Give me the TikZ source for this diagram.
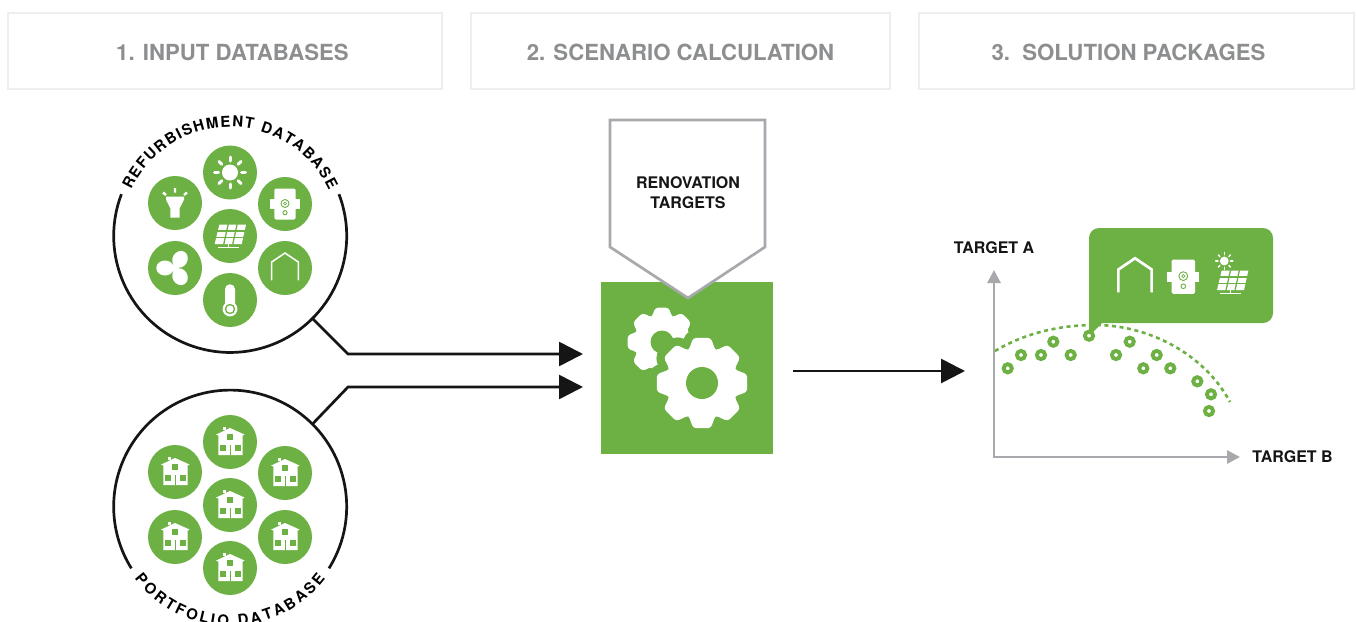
\documentclass[tikz,border=0pt]{standalone}
\usepackage{fontspec}
\setmainfont{TeX Gyre Heros}
\usetikzlibrary{arrows.meta,decorations.text,calc}
\definecolor{leaf}{HTML}{6DB144}
\definecolor{headgrey}{HTML}{8C8E90}
\definecolor{boxgrey}{HTML}{EEEEEE}
\definecolor{axisgrey}{HTML}{A7A9AC}
\definecolor{inkk}{HTML}{151515}
\newcommand{\gearshape}[5][]{% options cx cy outer root
  \path[fill=white,rounded corners=3pt,#1] ([shift={(#2,#3)}]-22:#5)
  \foreach \a in {0,45,...,315} {
    -- ([shift={(#2,#3)}]\a-22:#5) -- ([shift={(#2,#3)}]\a-11:#4) -- ([shift={(#2,#3)}]\a+11:#4) -- ([shift={(#2,#3)}]\a+22:#5)
  } -- cycle;}
\tikzset{
  x=1pt,y=-1pt,
  headbox/.style={draw=boxgrey,line width=2.2pt,fill=white,inner sep=0pt},
  headtext/.style={text=headgrey,font=\bfseries\fontsize{22.2}{22.2}\selectfont,inner sep=0pt},
  labeltext/.style={text=inkk,font=\bfseries\fontsize{16}{20}\selectfont,align=center,inner sep=0pt},
  disc/.style={circle,fill=leaf,minimum size=54pt,inner sep=0pt},
  dbcircle/.style={circle,minimum size=233pt,inner sep=0pt},
  ringdot/.style={circle,draw=leaf,line width=3.9pt,fill=white,minimum size=8.2pt,inner sep=0pt},
  conn/.style={draw=inkk,line width=2.7pt,-{Triangle[length=24pt,width=24pt]}},
  dbline/.style={draw=inkk,line width=2.7pt},
  axis/.style={draw=axisgrey,line width=2.8pt},
  pics/sun/.style={code={
    \fill[white] (0,0) circle (8);
    \foreach \a in {0,45,...,315} \draw[white,line width=#1,line cap=round] (\a:11.5) -- (\a:15.5);
  }},
  pics/sun/.default=3pt,
  pics/torch/.style={code={
    \fill[white] (-9,-6.3)--(9,-6.3)--(9,-3.5)--(4.7,5.3)--(4.7,14.7)--(-4.7,14.7)--(-4.7,5.3)--(-9,-3.5)--cycle;
    \draw[white,line width=2.4pt] (0,-15)--(0,-10.5) (-12,-10.5)--(-9,-8) (12,-10.5)--(9,-8);
  }},
  pics/boiler/.style={code={
    \fill[white,rounded corners=1.5pt] (-10.7,-15.5) rectangle (10.7,15.5);
    \fill[white] (-14.7,-4.6) rectangle (14.7,4.6);
    \draw[leaf,line width=.9pt] (0,-.5) circle (4);
    \draw[leaf,line width=.7pt] (0,-.5) circle (1.5);
    \draw[leaf,line width=.9pt] (0,8.7) circle (2.1);
  }},
  pics/solar/.style={code={
    \fill[white] (-10.7,-11.3)--(16,-11.3)--(11.7,8)--(-15.3,8)--cycle;
    \foreach \i in {1,2} \draw[leaf,line width=1.3pt] (-10.7+8.9*\i,-11.8)--(-15.3+9*\i,8.5);
    \foreach \j in {1,2} \draw[leaf,line width=1.3pt] (-12-1.45*\j,-11.3+6.43*\j)--(17-1.45*\j,-11.3+6.43*\j);
    \draw[white,line width=1.3pt] (-1.5,8)--(-1.5,11.8) (-12,11.8)--(9,11.8);
  }},
  pics/fan/.style={code={
    \foreach \a in {180,60,300} \fill[white,rotate=\a] (10,0) ellipse (8.7 and 7.5);
    \fill[white] (0,0) circle (4);
  }},
  pics/arch/.style={code={
    \draw[white,line width=#1,line join=miter] (-13.3,12.3)--(-13.3,-6)--(0,-15)--(13.3,-6)--(13.3,12.3);
  }},
  pics/arch/.default=1.5pt,
  pics/thermo/.style={code={
    \fill[white,rounded corners=4.8pt] (-5,-15.7) rectangle (5,8);
    \fill[white] (0,9) circle (7.4);
    \draw[leaf,line width=1.3pt] (0,9) circle (4.5);
    \fill[white] (0,9) circle (2.6);
  }},
  pics/building/.style={code={
    \fill[white] (-14,-7.4)--(0,-14)--(14.7,-7.4)--(12.7,-6.5)--(12.7,13)--(-11.7,13)--(-11.7,-6.5)--cycle;
    \fill[white] (-7,-14.6) rectangle (-4,-12.5);
    \fill[leaf] (-2.7,-7.7) rectangle (3.3,-1.7);
    \fill[leaf] (-10,3.3) rectangle (-4.3,9.3);
    \fill[leaf] (5,3.3) rectangle (10.7,9.3);
    \fill[leaf] (-.1,3.3) rectangle (.9,13);
  }},
}
\begin{document}
\begin{tikzpicture}
\clip (0,0) rectangle (1356,621);
\fill[white] (0,0) rectangle (1356,621);

% headers
\draw[headbox] (8,13) rectangle (442,89);
\draw[headbox] (471,13) rectangle (890,89);
\draw[headbox] (919,13) rectangle (1354,89);
\node[headtext] (h1) at (232.5,52) {1. INPUT DATABASES};
\node[headtext] (h2) at (680.5,52) {2. SCENARIO CALCULATION};
\node[headtext] (h3) at (1128.5,52) {3.\ \ SOLUTION PACKAGES};

% database circles
\node[dbcircle] (refdb) at (230,236) {};
\node[dbcircle] (portdb) at (230,506.5) {};
\draw[dbline] (refdb.21) arc[start angle=21,end angle=-201,radius=116.5pt];
\draw[dbline] (portdb.-32) arc[start angle=-32,end angle=212,radius=116.5pt];
\path[decorate,decoration={text along path,text align={fit to path},
  text={|\bfseries\fontsize{15}{15}\selectfont|REFURBISHMENT DATABASE}}]
  (refdb.center) ++(155:109pt) arc[start angle=155,end angle=25,radius=109pt];
\path[decorate,decoration={text along path,text align={fit to path},
  text={|\bfseries\fontsize{15}{15}\selectfont|PORTFOLIO DATABASE}}]
  (portdb.center) ++(-143:119.5pt) arc[start angle=-143,end angle=-37,radius=119.5pt];

% refurbishment discs
\node[disc] (r1) at (230,172.5) {};
\node[disc] (r2) at (175,203) {};
\node[disc] (r3) at (285,204) {};
\node[disc] (r4) at (230,236) {};
\node[disc] (r5) at (175,268) {};
\node[disc] (r6) at (285,268) {};
\node[disc] (r7) at (230,300) {};
\pic at (r1) {sun};
\pic at (r2) {torch};
\pic at (r3) {boiler};
\pic at (r4) {solar};
\pic at (r5) {fan};
\pic at (r6) {arch};
\pic at (r7) {thermo};

% portfolio discs
\foreach \n/\p in {p1/{230,442},p2/{175,472},p3/{285,473},p4/{230,505},p5/{175,537},p6/{285,537},p7/{230,568}} {
  \node[disc] (\n) at (\p) {};
  \pic at (\n) {building};
}

% engine
\node[fill=leaf,minimum size=172pt,inner sep=0pt] (engine) at (687,368) {};
\gearshape{662}{342}{35}{27}
\fill[leaf] (662,342) circle (11.5);
\gearshape[fill=leaf,draw=leaf,line width=17pt,line join=round]{702}{383}{46}{35.5}
\gearshape{702}{383}{46}{35.5}
\fill[leaf] (702,383) circle (16);

% targets pentagon
\draw[draw=axisgrey,line width=2.7pt,fill=white,line join=miter] (610,120)--(765,120)--(765,247)--(688,298)--(610,247)--cycle;
\node[labeltext] (targets) at (688,193) {RENOVATION\\TARGETS};

% connectors
\coordinate (a1) at (348,354);
\coordinate (a2) at (348,387);
\coordinate (t1) at (583,354);
\coordinate (t2) at (583,387);
\coordinate (s3) at (793,371);
\coordinate (t3) at (965,371);
\draw[conn] (refdb.-45) -- (a1) -- (t1);
\draw[conn] (portdb.45) -- (a2) -- (t2);
\draw[conn] (s3) -- (t3);

% chart
\coordinate (origin) at (994,457);
\coordinate (ytip) at (994,270);
\coordinate (xtip) at (1240,457);
\draw[axis,{Triangle[length=13pt,width=13pt]}-{Triangle[length=13pt,width=13pt]}] (ytip) -- (origin) -- (xtip);
\node[labeltext] (ta) at (994,248) {TARGET A};
\node[labeltext] (tb) at (1292.5,457) {TARGET B};
\draw[leaf,line width=2.6pt,dash pattern=on 4pt off 3.6pt] (995,351) .. controls (1025,333) and (1060,325) .. (1095,325) .. controls (1150,325) and (1205,355) .. (1230,402);
\fill[leaf] (1099,228) -- (1263,228) arc[start angle=90,end angle=0,radius=10pt] -- (1273,313) arc[start angle=0,end angle=-90,radius=10pt] -- (1102,323) -- (1092,333) -- (1089,333) -- (1089,238) arc[start angle=180,end angle=90,radius=10pt] -- cycle;
\foreach \i/\p in {1/{1007.7,368.3},2/{1021,355},3/{1041,355},4/{1053.3,341.7},5/{1070.7,355},6/{1089,335.7},7/{1116,355},8/{1129.7,341.7},9/{1143.3,368.3},10/{1156.7,355},11/{1170.3,368.3},12/{1197.3,381.3},13/{1211,394.3},14/{1209,411}}
  \node[ringdot] (d\i) at (\p) {};
\pic[scale=1.25] at (1135,277) {arch=2.7pt};
\pic[scale=1.1] at (1183.3,276.7) {boiler};
\pic at (1232.3,282) {solar};
\pic[scale=.55] at (1224.3,261) {sun=1.5pt};
\end{tikzpicture}
\end{document}
